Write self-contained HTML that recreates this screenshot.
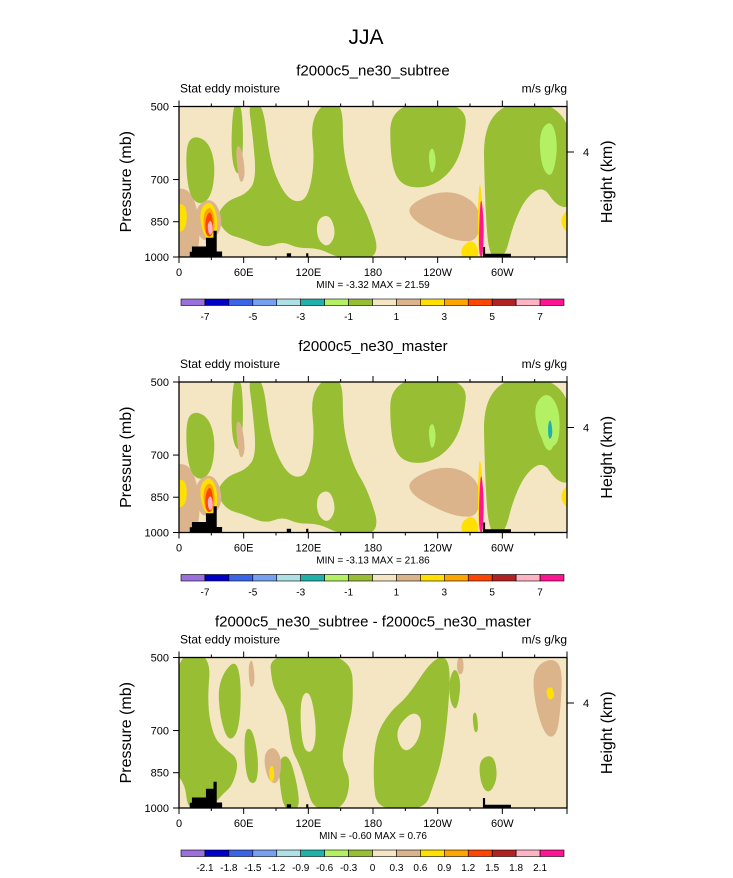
<!DOCTYPE html>
<html><head><meta charset="utf-8"><style>
body{margin:0;background:#fff;font-family:"Liberation Sans",sans-serif}
svg text{font-family:"Liberation Sans",sans-serif}
</style></head><body>
<svg id="c" width="733" height="873" viewBox="0 0 733 873" xmlns="http://www.w3.org/2000/svg">
<text x="366" y="44" font-size="21" text-anchor="middle">JJA</text>
</svg>
<script>
const NS="http://www.w3.org/2000/svg";
const svg=document.getElementById('c');
const palette=["#9b6fdc","#0000c8","#3c64e6","#78a0f0","#aee0e6","#20b2aa","#b4f064","#98be34","#f5e6c3","#dcb48c","#ffe000","#ffa500","#ff4500","#b22222","#ffb4c4","#ff1493"];
const ticks12=["-7","-5","-3","-1","1","3","5","7"];
const ticks3=["-2.1","-1.8","-1.5","-1.2","-0.9","-0.6","-0.3","0","0.3","0.6","0.9","1.2","1.5","1.8","2.1"];
const xTickVals=[0,60,120,180,240,300];
const xTickLabels=["0","60E","120E","180","120W","60W"];
const yTickVals=[500,700,850,1000];
const titles=["f2000c5_ne30_subtree","f2000c5_ne30_master","f2000c5_ne30_subtree - f2000c5_ne30_master"];
const minmax=["MIN = -3.32  MAX = 21.59","MIN = -3.13  MAX = 21.86","MIN = -0.60  MAX =  0.76"];
// shapes: [colorIndex, [[lon,p],...]]
const shapesA=[
[9,[[-5,730],[8,730],[16,780],[20,900],[16,1010],[-5,1010]]],
[7,[[6,600],[14,570],[28,590],[34,660],[30,760],[18,790],[8,740]]],
[7,[[34,830],[45,770],[62,750],[72,700],[68,560],[64,490],[78,490],[84,640],[96,740],[108,780],[120,760],[126,640],[122,540],[134,490],[152,490],[152,620],[162,740],[175,820],[188,1010],[150,1010],[130,960],[110,960],[96,930],[80,960],[60,920],[44,900]]],
[7,[[50,490],[58,490],[60,600],[56,700],[48,640]]],
[8,[[128,840],[140,820],[146,900],[138,960],[128,920]]],
[7,[[196,490],[268,490],[264,600],[252,680],[230,730],[205,720],[196,640]]],
[7,[[282,490],[365,490],[365,800],[350,790],[338,720],[322,760],[310,860],[302,1010],[288,1010],[284,800]]],
[6,[[334,560],[346,530],[352,600],[346,700],[336,660]]],
[6,[[231,620],[236,600],[239,650],[234,690]]],
[9,[[212,790],[238,740],[262,745],[280,800],[278,930],[258,930],[236,890],[216,840]]],
[9,[[52,600],[58,600],[62,690],[56,720]]],
[10,[[-5,790],[5,780],[8,830],[5,890],[-5,890]]],
[10,[[354,830],[365,790],[365,900],[356,880]]],
[10,[[262,950],[274,920],[280,1010],[262,1010]]],
[9,[[14,800],[28,760],[38,800],[40,880],[30,930],[18,920]]],
[10,[[18,810],[28,770],[35,810],[36,900],[24,930]]],
[11,[[22,820],[29,790],[33,830],[33,900],[24,910]]],
[12,[[24,840],[29,805],[32,850],[31,910],[25,910]]],
[14,[[26,860],[30,840],[32,890],[28,910]]],
[10,[[277,820],[279,690],[282,800],[281,1000],[278,1000]]],
[15,[[278,920],[280,740],[283,850],[282,1000],[279,1000]]]
];
const shapesB=shapesA.concat([
[6,[[328,560],[342,520],[354,570],[352,680],[336,660]]],
[5,[[342,610],[345,590],[347,640],[343,655]]]
]);
const shapesC=[
[7,[[-5,490],[30,490],[26,620],[32,720],[42,760],[56,800],[50,900],[40,940],[28,1010],[8,1010],[6,900],[-5,840]]],
[7,[[36,560],[52,500],[58,560],[56,700],[46,740],[38,660]]],
[7,[[84,490],[160,490],[162,620],[156,700],[150,800],[160,880],[152,1010],[125,1010],[118,900],[112,820],[104,760],[100,640],[92,600],[86,560]]],
[8,[[112,600],[122,580],[128,700],[124,780],[114,760]]],
[7,[[60,700],[68,690],[74,800],[72,900],[62,880]]],
[7,[[92,800],[102,780],[110,900],[112,1010],[98,1010],[94,920]]],
[7,[[182,720],[196,640],[212,600],[236,500],[252,500],[250,640],[244,800],[236,900],[228,1010],[184,1010],[180,880]]],
[8,[[200,700],[216,640],[226,660],[222,740],[208,780]]],
[7,[[250,560],[256,520],[262,560],[258,640],[252,620]]],
[7,[[278,800],[292,780],[296,870],[288,940],[280,900]]],
[7,[[272,650],[276,640],[278,700],[274,710]]],
[9,[[328,530],[344,500],[356,520],[354,640],[350,720],[340,720],[330,620]]],
[10,[[340,580],[346,570],[349,600],[343,610]]],
[9,[[78,780],[88,750],[96,800],[92,900],[82,880]]],
[10,[[83,840],[87,815],[89,870],[85,895]]],
[9,[[64,520],[68,500],[71,560],[66,580]]],
[9,[[258,500],[264,500],[264,540],[258,540]]]
];
const topo=[[10,1005],[10,976],[12,976],[12,953],[25,953],[25,915],[32,915],[32,886],[35,886],[35,975],[40,975],[40,1005]];
const topo2=[[282,1005],[282,955],[284,955],[284,985],[308,985],[308,1005]];
const topo3=[[100,1005],[100,983],[104,983],[104,1005]];
const topo4=[[118,1005],[118,983],[120,983],[120,1005]];
function el(tag,attrs,parent){const e=document.createElementNS(NS,tag);for(const k in attrs)e.setAttribute(k,attrs[k]);(parent||svg).appendChild(e);return e;}
const X0=179,X1=567,H=150.5;
function panel(top,idx,shapes,ticksCB,bg){
  const xs=l=>X0+l/360*(X1-X0);
  const ys=p=>top+(Math.log(p)-Math.log(500))/(Math.log(1000)-Math.log(500))*H;
  const g=el('g',{});
  
  
  const t=el('text',{x:373,y:top-31,'font-size':15,'text-anchor':'middle'},g);t.textContent=titles[idx];
  
  const l=el('text',{x:180,y:top-14,'font-size':12},g);l.textContent="Stat eddy moisture";
  
  const r=el('text',{x:567,y:top-14,'font-size':12,'text-anchor':'end'},g);r.textContent="m/s g/kg";
  
  const clip='clip'+idx;const cp=el('clipPath',{id:clip},g);el('rect',{x:X0,y:top,width:X1-X0,height:H},cp);
  const pg=el('g',{'clip-path':'url(#'+clip+')'},g);
  const bgr=el('rect',{x:X0,y:top,width:X1-X0,height:H,fill:palette[bg]},pg);
  
  shapes.forEach(s=>{
    const pts=s[1].map(q=>[xs(q[0]),ys(q[1])]);const n=pts.length;
    let d='';for(let i=0;i<n;i++){const a=pts[i],b=pts[(i+1)%n];const m=[(a[0]+b[0])/2,(a[1]+b[1])/2];
      d+= (i===0?'M'+m[0]+','+m[1]:'Q'+a[0]+','+a[1]+' '+m[0]+','+m[1]);}
    const a=pts[0],b=pts[1];d+='Q'+a[0]+','+a[1]+' '+(a[0]+b[0])/2+','+(a[1]+b[1])/2+'Z';
    const p=el('path',{d:d,fill:palette[s[0]]},pg);
    
  });
  [topo,topo2,topo3,topo4].forEach(tp=>{const p=el('polygon',{points:tp.map(q=>xs(q[0])+','+ys(q[1])).join(' '),fill:'#000'},pg);
    });
  const fr=el('rect',{x:X0,y:top,width:X1-X0,height:H,fill:'none',stroke:'#000','stroke-width':1.3},g);
  
  for(let lon=0;lon<=360;lon+=30){const maj=lon%60===0;const x=xs(lon);
    el('line',{x1:x,x2:x,y1:top+H,y2:top+H+(maj?6:3),stroke:'#000'},g);
    el('line',{x1:x,x2:x,y1:top,y2:top-(maj?6:3),stroke:'#000'},g);}
  xTickVals.forEach((v,i)=>{const tx=el('text',{x:xs(v),y:top+H+19,'font-size':11,'text-anchor':'middle'},g);tx.textContent=xTickLabels[i];
    });
  yTickVals.forEach(v=>{const y=ys(v);el('line',{x1:X0-6,x2:X0,y1:y,y2:y,stroke:'#000'},g);
    const tx=el('text',{x:X0-10,y:y+4,'font-size':11,'text-anchor':'end'},g);tx.textContent=v;
    });
  const hy=top+45.5;el('line',{x1:X1,x2:X1+7,y1:hy,y2:hy,stroke:'#000'},g);
  const h4=el('text',{x:X1+16,y:hy+4,'font-size':11},g);h4.textContent="4";
  
  const yt=el('text',{x:0,y:0,'font-size':16,'text-anchor':'middle',transform:`translate(131,${top+H/2}) rotate(-90)`},g);yt.textContent="Pressure (mb)";
  
  const ht=el('text',{x:0,y:0,'font-size':16,'text-anchor':'middle',transform:`translate(612,${top+H/2}) rotate(-90)`},g);ht.textContent="Height (km)";
  
  const mm=el('text',{x:373,y:top+H+31,'font-size':10,'text-anchor':'middle'},g);mm.textContent=minmax[idx];
  
  const cy=top+192.5,cw=(564-181)/16;
  const cb=el('g',{},g);
  palette.forEach((c,i)=>{const b=el('rect',{x:181+i*cw,y:cy,width:cw,height:6.5,fill:c,stroke:'#000','stroke-width':0.6},cb);
    });
  ticksCB.forEach((s,i)=>{const step=ticksCB.length===8?2:1;const x=181+cw*(1+i*step);
    const tx=el('text',{x:x,y:cy+21,'font-size':10,'text-anchor':'middle'},cb);tx.textContent=s;
    });
}
panel(106.5,0,shapesA,ticks12,8);
panel(382,1,shapesB,ticks12,8);
panel(657.5,2,shapesC,ticks3,8);
</script>
</body></html>
